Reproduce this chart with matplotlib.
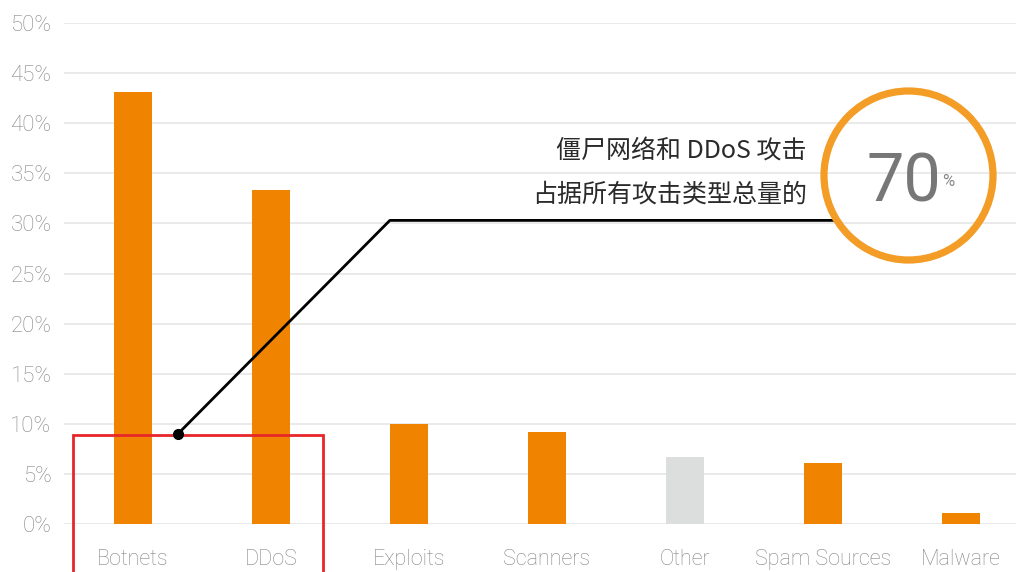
import matplotlib
matplotlib.use("Agg")
import matplotlib.pyplot as plt
from matplotlib.patches import Circle, Rectangle

plt.rcParams['font.family'] = ['Roboto', 'Noto Sans CJK SC', 'DejaVu Sans']

categories = ['Botnets', 'DDoS', 'Exploits', 'Scanners', 'Other', 'Spam Sources', 'Malware']
shares = [43.1, 33.3, 10.0, 9.2, 6.7, 6.1, 1.1]
highlight = [True, True, True, True, False, True, True]
yticks = [0, 5, 10, 15, 20, 25, 30, 35, 40, 45, 50]
callout_lines = ['僵尸网络和 DDoS 攻击', '占据所有攻击类型总量的']
big_number = '70'

orange = '#f08300'
grey_bar = '#dcdddd'
label_grey = '#858585'

fig = plt.figure(figsize=(10.16, 5.72), dpi=100)
ax = fig.add_axes([64 / 1016, 48 / 572, 952 / 1016, 501 / 572])

cols = [orange if h else grey_bar for h in highlight]
ax.bar(range(len(categories)), shares, width=0.275, color=cols, zorder=2)

ax.set_xlim(-0.5, 6.4)
ax.set_ylim(0, 50)
ax.set_yticks(yticks)
ax.set_yticklabels([f'{t}%' for t in yticks])
ax.set_xticks(range(len(categories)))
ax.set_xticklabels(categories)
ax.tick_params(axis='y', length=0, labelsize=16, labelcolor=label_grey, pad=9)
ax.tick_params(axis='x', length=0, labelsize=15.5, labelcolor=label_grey, pad=18)
for lab in ax.get_xticklabels() + ax.get_yticklabels():
    lab.set_fontweight('light')
ax.grid(axis='y', color='#e6e6e6', linewidth=1.2, zorder=0)
for s in ax.spines.values():
    s.set_visible(False)

# red highlight box around the first two bars
box = Rectangle((-0.435, -10), 1.812, 18.9, fill=False, edgecolor='#e8262a',
                linewidth=2, clip_on=False, zorder=3)
ax.add_patch(box)

# callout line
ax.plot([0.326, 1.862, 5.094], [9.0, 30.3, 30.3], color='black', linewidth=2,
        clip_on=False, zorder=4)
ax.plot([0.326], [9.0], 'o', color='black', markersize=7, zorder=5)

cjk = ['Noto Sans CJK SC', 'DejaVu Sans']
fig.text(807 / 1016, 1 - 152 / 572, callout_lines[0], ha='right', va='center',
         fontsize=18, color='#2a2a2a', family=cjk, fontweight='light')
fig.text(807 / 1016, 1 - 195 / 572, callout_lines[1], ha='right', va='center',
         fontsize=18, color='#2a2a2a', family=cjk, fontweight='light')

ring = Circle((9.085, 5.72 - 1.755), 0.845, transform=fig.dpi_scale_trans,
              fill=False, edgecolor='#f39c26', linewidth=5.2)
fig.patches.append(ring)
fig.text(904 / 1016, 1 - 183 / 572, big_number, ha='center', va='center',
         fontsize=48, color='#777777', fontweight='normal')
fig.text(942 / 1016, 1 - 182 / 572, '%', ha='left', va='center',
         fontsize=12, color='#888888')

fig.savefig('out.png', dpi=100)
